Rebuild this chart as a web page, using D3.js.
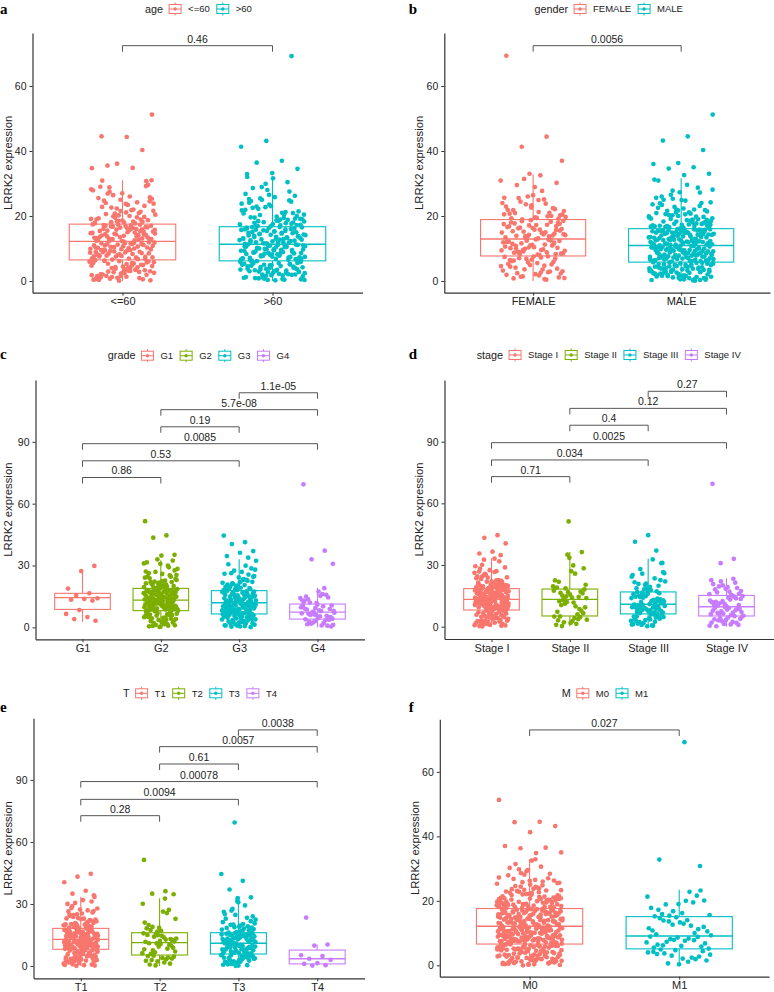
<!DOCTYPE html>
<html><head><meta charset="utf-8">
<script src="https://cdn.jsdelivr.net/npm/d3@7"></script>
<style>body{margin:0;background:#fff}svg{display:block}</style>
</head><body>
<svg id="chart" width="774" height="992"></svg>
<script>
// ---------------- DATA ----------------
const yTicks2 = [0, 20, 40, 60];
const yTicks4 = [0, 30, 60, 90];
const comps2 = [[0, 1]];
const comps4 = [[0, 1], [0, 2], [0, 3], [1, 2], [1, 3], [2, 3]];

// a: age
const ageCats = ["<=60", ">60"];
const ageLe60 = [3.1,9.4,14.2,21.5,0.6,7.2,16.8,25.3,5.2,11.6,13.1,18.4,1.8,8.3,15.5,29.6,4.4,10.2,12.7,19.9,2.5,6.9,17.2,23.1,6.1,11.0,14.9,27.4,0.2,8.8,13.6,18.9,3.8,9.9,16.1,20.6,5.7,7.7,12.4,24.2,1.2,10.8,15.0,30.9,4.9,8.0,17.4,22.0,2.9,11.9,13.9,19.3,0.9,9.1,14.6,26.0,6.3,7.4,16.4,17.9,3.4,10.5,12.9,21.1,2.1,8.6,15.8,28.2,5.5,11.3,13.4,18.6,1.5,6.7,16.7,23.8,4.1,9.6,14.4,20.2,0.4,10.0,12.2,25.7,3.6,7.9,15.3,19.5,5.9,11.5,17.0,30.7,2.3,8.9,13.8,22.6,4.6,9.3,14.0,18.2,1.0,7.0,16.3,26.9,6.0,10.7,12.6,20.9,2.7,11.8,15.6,24.7,3.3,8.2,13.3,17.7,0.7,9.7,16.9,29.0,5.0,7.5,14.7,21.8,1.6,10.3,12.3,19.0,4.2,6.6,15.2,23.4,2.0,11.1,17.3,27.9,5.4,8.4,13.0,18.0,0.3,9.0,14.5,20.4,3.9,10.9,16.6,25.0,6.4,7.1,12.8,31.0,1.3,9.5,15.9,22.3,4.7,11.4,13.7,18.7,2.6,8.1,14.1,26.4,5.8,10.1,16.0,19.7,0.1,7.6,12.5,28.8,3.0,11.7,15.4,21.3,4.3,8.7,17.1,24.0,1.9,9.8,13.2,19.6,4.0,7.3,16.2,22.8,0.5,11.2,14.8,18.3,5.3,8.5,12.1,25.5,2.8,10.4,15.7,20.0,6.2,6.8,13.5,17.8,3.5,9.2,17.0,23.7,1.1,11.4,14.3,19.1,4.8,7.8,16.5,27.0,0.8,10.6,12.9,21.6,3.2,8.9,15.1,18.5,5.6,11.8,13.0,24.5,2.4,7.5,17.3,20.7,6.0,9.5,14.4,29.2,1.5,10.3,16.0,18.1,51.2,44.3,44.5,40.3,36.1,34.7,34.8,35.5];
const ageGt60 = [2.4,8.1,13.5,19.2,4.8,10.6,15.9,25.4,0.5,6.8,12.1,17.6,3.7,9.3,14.8,22.9,5.6,7.5,16.2,18.8,1.1,10.9,11.7,28.6,4.1,8.6,13.0,20.5,2.9,6.4,15.3,24.1,5.1,9.9,12.6,17.1,0.9,11.2,14.2,26.8,3.2,7.9,16.5,19.8,6.0,9.0,11.5,21.7,1.7,10.2,13.8,31.6,4.5,7.2,15.6,18.3,2.2,8.8,12.4,23.5,5.3,10.4,14.5,17.3,0.2,6.6,16.0,29.9,3.5,9.6,11.9,20.0,4.9,8.3,13.2,25.0,1.4,11.0,15.1,18.0,2.7,7.0,12.9,22.2,5.8,9.4,14.0,27.5,0.7,10.7,16.6,19.5,3.9,8.0,11.4,17.8,4.3,6.9,13.6,24.6,1.9,9.8,15.7,21.0,6.1,11.1,12.2,32.0,2.1,7.7,14.3,18.5,5.4,8.5,16.3,20.8,0.4,10.0,13.3,25.8,3.0,7.4,11.6,17.4,4.6,9.1,15.0,23.0,1.2,10.5,12.8,19.0,3.4,6.3,14.7,28.0,5.0,8.9,16.9,21.4,2.6,11.3,11.8,18.1,0.3,7.8,13.9,26.2,4.0,9.2,15.4,20.3,5.9,10.3,12.5,24.4,1.6,6.5,14.6,17.0,3.6,8.2,16.4,30.4,2.0,9.7,12.0,22.5,4.4,10.8,13.1,19.4,0.8,7.3,15.2,25.2,5.2,8.4,14.1,18.9,3.3,6.7,16.8,21.9,2.5,7.6,12.7,18.6,4.7,9.5,15.4,23.8,0.6,10.1,13.7,17.5,3.8,6.5,11.6,20.4,5.5,8.7,16.1,26.5,1.0,11.0,14.4,19.1,3.1,7.1,12.3,22.7,5.9,9.0,15.8,17.2,1.8,10.6,13.4,28.9,4.2,8.2,16.6,20.9,0.3,6.9,11.9,18.4,2.8,9.7,14.8,24.8,5.0,7.4,12.7,17.9,2.0,10.9,15.9,21.2,3.6,8.6,13.0,19.6,69.2,43.1,41.3,37.0,36.4,34.5,33.2,32.9];
// box stats: [lower whisker, Q1, median, Q3, upper whisker]
const ageBox = [[0, 6.5, 12.2, 17.5, 31.0], [0, 6.2, 11.3, 16.7, 32.0]];
const agePvals = ["0.46"];

// b: gender
const genderCats = ["FEMALE", "MALE"];
const genderFemale = [2.7,9.1,14.4,21.2,6.3,11.8,17.1,25.6,0.6,8.2,15.5,19.6,4.4,12.5,13.3,30.9,7.2,10.0,16.9,23.3,1.9,8.8,18.4,20.4,5.5,11.4,14.0,26.0,3.2,9.7,16.2,19.2,7.5,12.1,13.7,31.4,0.9,8.0,17.7,22.1,4.9,10.6,15.0,24.4,2.3,12.8,18.0,20.0,6.8,9.4,14.8,29.5,3.8,11.1,16.6,19.9,1.4,8.5,13.1,21.8,5.9,10.3,17.5,25.1,7.0,12.3,15.8,20.7,2.9,9.9,14.1,32.5,4.1,8.3,18.7,22.9,0.4,11.6,16.0,19.4,6.1,10.9,13.5,24.0,3.5,9.0,17.9,26.4,5.2,12.7,15.2,21.5,1.7,8.7,14.6,33.0,7.4,11.2,16.4,20.2,2.1,10.1,18.2,23.6,4.6,9.5,13.9,30.2,6.6,12.0,17.3,19.0,3.0,8.1,15.3,22.4,5.7,11.9,14.3,25.5,1.1,10.4,16.8,21.0,3.6,9.3,15.8,20.9,6.9,11.0,13.4,23.8,1.3,8.4,17.2,19.3,5.1,12.4,14.9,27.7,2.4,10.2,16.3,21.9,7.6,9.6,18.5,24.9,0.8,11.5,14.2,20.5,4.7,8.9,17.6,28.9,6.4,12.6,13.8,19.7,2.6,10.8,15.7,22.6,69.3,44.4,41.3,37.0];
const genderMale = [2.2,7.9,13.1,18.4,4.5,10.2,15.6,22.0,0.3,6.1,11.4,17.0,3.6,9.0,14.2,25.3,5.3,7.1,12.6,19.7,1.0,10.7,15.9,16.5,2.9,8.4,11.0,27.2,4.8,6.6,13.8,20.6,0.7,9.6,14.9,17.7,3.3,8.0,12.1,23.4,5.6,10.5,15.3,18.9,1.5,6.4,11.7,30.9,4.1,9.3,13.4,21.1,2.6,7.5,14.6,16.8,0.1,10.0,12.3,24.7,3.9,8.7,15.0,19.2,5.0,6.9,11.2,17.3,1.8,9.9,13.6,28.1,4.3,7.7,14.4,20.0,2.4,10.8,12.9,16.3,0.5,8.2,15.8,22.8,3.1,6.2,11.5,18.1,5.4,9.5,13.0,26.5,1.3,7.3,14.0,17.5,4.6,10.3,12.4,21.6,2.0,8.9,15.4,19.0,3.5,6.7,11.9,25.0,0.9,9.7,13.3,16.9,5.7,7.0,14.8,23.9,2.7,10.6,12.0,18.6,4.0,8.5,15.2,20.9,1.2,6.0,11.3,29.6,3.8,9.2,13.9,17.1,0.2,7.6,14.3,22.3,5.2,10.1,12.7,19.5,2.5,8.1,15.7,16.1,4.4,6.5,11.1,24.2,1.6,9.8,13.5,18.3,3.0,7.8,14.7,21.4,0.8,10.4,12.2,27.8,5.5,8.6,15.5,17.8,2.1,6.3,11.8,20.3,3.4,9.4,13.2,23.1,4.9,7.4,14.1,16.6,0.4,10.9,12.5,19.8,2.8,8.3,15.1,26.0,4.2,6.8,11.6,18.0,1.9,9.1,13.7,22.5,3.7,7.2,14.5,17.4,5.1,10.0,12.8,31.2,0.6,8.8,15.9,20.5,2.3,6.1,11.2,16.7,4.7,9.6,13.4,24.9,1.4,7.9,14.9,19.3,3.2,10.5,12.0,21.7,5.8,8.4,15.6,18.2,1.7,7.0,12.2,17.6,3.9,9.5,14.5,21.8,0.5,6.4,11.5,19.1,4.9,8.6,15.3,24.0,2.6,10.3,13.1,16.9,5.3,6.9,12.7,28.7,1.1,9.1,14.8,18.3,3.4,7.8,11.2,22.0,4.5,10.6,15.8,17.0,0.3,8.0,13.5,20.7,2.9,6.2,12.4,25.6,5.6,9.8,14.2,18.7,1.6,7.5,16.0,23.6,3.8,10.0,11.7,16.4,4.2,8.4,13.9,19.9,0.9,6.6,15.2,27.3,2.2,9.3,12.6,17.3,5.0,7.2,14.6,21.1,3.1,10.7,11.4,18.8,1.4,8.7,15.5,20.2,51.2,44.5,43.2,40.3,36.3,36.0,35.0,34.6,33.0,32.6];
const genderBox = [[0, 7.7, 12.9, 18.9, 32.8], [0, 5.8, 10.9, 16.1, 31.6]];
const genderPvals = ["0.0056"];

// c: grade
const gradeCats = ["G1", "G2", "G3", "G4"];
const gradeG1 = [29.8,27.3,18.8,16.5,15.5,14.1,13.8,13.4,13.0,8.4,6.5,5.0,4.0,3.2];
const gradeG2 = [3.0,9.5,14.7,21.3,6.4,12.1,17.0,25.9,0.5,8.6,15.9,19.5,4.7,11.0,13.6,30.8,7.6,10.2,18.2,23.0,1.8,12.8,16.3,20.1,5.5,9.0,14.0,27.6,2.6,11.7,17.8,19.1,7.9,10.6,15.2,32.4,0.2,8.3,13.4,22.2,4.0,12.4,16.9,24.6,6.9,9.8,18.6,20.6,3.3,11.3,14.4,29.1,1.2,8.9,17.3,21.9,5.9,13.0,15.5,19.8,2.1,10.4,13.9,26.3,7.1,9.2,16.6,22.7,4.4,12.6,18.8,31.5,0.8,11.5,14.9,20.4,6.2,8.1,17.5,24.1,3.7,10.8,15.7,19.3,5.2,12.9,13.3,28.4,1.5,9.3,16.1,21.7,7.4,11.9,18.4,23.5,2.9,10.0,14.2,33.0,4.9,8.7,17.2,20.0,0.3,12.2,15.3,26.9,6.6,9.6,13.8,22.0,3.6,11.2,16.7,19.0,1.0,10.5,18.0,25.2,5.7,8.4,14.6,21.1,2.4,12.0,17.7,29.9,7.8,9.9,15.0,23.8,4.2,11.6,13.5,20.8,0.7,8.8,16.4,24.8,6.0,12.7,18.5,19.6,3.1,10.9,14.3,27.1,1.6,9.1,17.6,22.4,5.0,11.4,15.8,31.0,2.2,10.3,13.7,20.3,7.0,12.5,16.0,25.4,4.6,8.5,18.1,21.5,51.5,44.6,43.5,35.2,34.8];
const gradeG3 = [2.5,8.0,13.4,20.2,5.1,10.9,16.1,24.5,0.4,7.1,12.3,18.4,3.8,9.6,14.9,28.6,6.2,11.5,17.5,21.1,1.3,6.8,13.0,19.0,4.3,10.2,15.6,26.3,2.0,8.7,12.6,22.6,5.6,11.1,16.8,18.9,0.1,7.6,14.1,29.9,3.5,9.2,12.1,20.7,6.0,10.6,17.2,23.4,1.7,6.6,13.8,19.6,4.8,11.8,15.3,26.9,2.8,8.4,12.9,18.1,0.6,9.9,16.5,21.8,5.4,7.3,14.4,32.3,3.1,10.4,12.4,20.0,1.0,8.9,17.0,24.9,4.5,11.3,15.0,19.3,6.4,6.9,13.2,22.1,2.3,9.4,16.3,27.5,3.9,10.7,12.0,18.6,0.8,7.8,14.6,21.4,5.8,11.6,17.7,25.6,1.5,8.2,13.6,19.9,4.1,9.0,15.8,23.0,2.6,10.0,12.8,30.6,5.0,7.0,16.9,20.5,0.3,11.0,14.0,18.3,3.3,8.6,13.1,22.9,6.1,9.8,15.5,26.0,1.9,7.4,17.4,19.2,4.6,10.5,12.2,21.6,2.9,8.1,14.7,24.2,0.9,11.4,16.0,28.0,5.3,9.3,13.5,18.0,44.5,41.3,40.4,37.0,36.2,34.6,33.8];
const gradeG4 = [1.2,5.3,8.6,14.5,3.0,6.8,10.2,12.0,0.4,4.5,9.1,15.8,2.3,7.1,7.9,13.6,3.7,5.9,10.9,19.0,1.8,4.2,8.3,14.9,0.8,6.3,9.7,16.1,2.7,5.0,11.0,12.7,3.4,7.3,8.0,15.3,1.5,4.8,9.4,13.1,2.0,6.0,10.6,17.4,3.9,5.6,7.6,14.2,0.9,6.6,8.9,11.8,69.4,37.2,33.0,30.8];
const gradeBox = [[2.7, 8.7, 14.4, 16.5, 27.4], [0, 8.1, 13.2, 18.9, 32.6], [0, 6.5, 11.9, 17.8, 33.0], [0, 4.0, 7.4, 11.3, 19.2]];
const gradePvals = ["0.86", "0.53", "0.0085", "0.19", "5.7e-08", "1.1e-05"];

// d: stage
const stageCats = ["Stage I", "Stage II", "Stage III", "Stage IV"];
const stageI = [3.4,9.7,14.6,20.8,6.7,12.2,17.3,25.1,0.6,8.5,15.8,19.2,4.9,11.4,13.9,30.1,7.8,10.1,18.0,22.7,2.0,12.9,16.2,19.9,5.6,9.2,14.1,27.0,1.1,11.9,17.7,21.4,7.2,10.8,15.1,33.1,3.0,8.2,13.5,23.6,4.3,12.6,16.9,19.0,0.3,9.9,18.3,26.2,6.1,11.1,14.3,20.4,2.7,8.9,17.0,24.0,5.0,13.1,15.4,18.9,1.6,10.4,13.7,28.8,7.5,9.4,16.6,21.9,3.8,12.4,18.4,20.0,0.9,11.7,14.9,25.7,6.4,8.4,17.5,22.3,2.4,10.6,15.6,19.6,4.6,12.0,13.4,31.8,7.9,9.0,16.4,23.2,1.4,11.3,18.2,20.6,5.3,10.0,14.0,26.8,3.2,8.7,17.2,19.4,0.1,12.8,15.2,24.5,6.9,9.6,13.8,21.1,2.2,11.6,16.8,29.4,4.1,10.3,18.1,22.0,7.0,8.8,14.4,19.8,1.9,12.3,17.9,27.5,5.8,9.1,15.0,20.2,3.6,11.0,13.6,23.9,0.7,10.7,16.1,18.7,6.2,12.5,18.5,25.3,2.9,8.6,14.8,21.7,4.4,11.8,15.9,32.6,7.7,9.5,17.4,20.9,1.3,10.2,13.3,24.3,5.1,12.1,16.3,19.3,3.1,8.3,14.2,28.2,0.4,11.5,17.6,22.5,6.6,9.8,15.3,20.5,2.5,12.7,13.9,26.6,4.8,10.9,16.7,19.1,44.5,43.2,40.5,36.5,35.6,34.8];
const stageII = [2.1,9.4,14.2,21.8,4.6,12.0,17.5,25.8,0.3,6.5,15.6,19.0,3.7,11.2,13.9,29.8,5.0,7.8,16.8,22.5,1.4,12.9,18.1,27.0,3.1,8.6,14.8,19.6,4.2,10.5,16.2,33.5,0.9,6.0,13.5,20.4,2.7,12.4,17.0,35.0,4.9,9.9,15.1,28.4,1.8,7.2,14.5,18.6,3.4,11.7,16.4,36.3,51.2];
const stageIII = [2.4,7.9,12.8,19.4,5.0,9.8,15.6,24.3,0.5,6.6,11.3,17.5,3.6,8.8,14.1,26.0,5.9,10.4,16.3,21.0,1.2,7.0,12.0,31.0,4.1,9.2,13.6,18.2,2.8,6.3,15.0,22.6,0.2,10.7,11.6,25.8,4.7,8.1,16.8,19.9,3.2,9.5,13.1,28.0,5.5,7.4,14.6,17.2,1.7,10.1,12.4,20.8,3.9,8.4,15.8,23.5,0.8,6.9,11.0,18.7,5.2,9.0,13.9,32.7,2.2,7.7,16.0,21.6,4.4,10.6,12.2,17.8,1.5,8.6,14.9,25.1,6.0,9.7,11.8,19.1,2.9,6.5,15.3,22.0,0.6,8.2,13.3,18.4,4.9,10.3,16.6,26.5,3.5,7.2,12.6,20.3,1.0,9.4,14.4,30.9,44.5,41.3,37.0];
const stageIV = [2.0,6.8,11.4,17.3,4.4,8.9,13.8,20.1,0.5,5.6,10.2,16.0,3.3,7.7,14.6,22.0,4.9,9.2,12.1,18.8,1.3,6.1,15.0,19.6,3.8,8.3,10.8,21.4,2.6,5.3,13.2,16.7,0.9,9.5,11.9,23.3,4.1,7.1,14.1,18.1,1.8,6.4,12.7,15.5,3.0,8.6,10.0,20.7,5.1,7.4,14.9,17.0,0.2,9.0,11.1,22.6,2.3,5.9,13.5,19.2,3.6,8.0,12.4,15.8,1.1,6.7,10.5,18.4,69.5,33.0,30.9];
const stageBox = [[0, 8.1, 13.3, 18.5, 33.3], [0.2, 5.2, 13.3, 18.3, 36.3], [0, 6.2, 10.9, 16.9, 33.0], [0, 5.2, 9.7, 15.2, 23.5]];
const stagePvals = ["0.71", "0.034", "0.0025", "0.4", "0.12", "0.27"];

// e: T
const tCats = ["T1", "T2", "T3", "T4"];
const tT1 = [4.1,10.5,15.2,22.4,7.3,8.6,17.9,19.5,1.0,12.3,13.6,26.6,5.4,9.3,16.5,20.7,2.8,11.8,14.3,31.2,6.5,10.0,18.1,23.7,0.2,8.2,15.7,19.1,3.9,12.7,13.1,28.0,7.8,9.7,16.9,21.2,2.3,11.2,14.9,24.8,5.0,10.6,17.4,18.5,0.8,8.9,13.9,30.0,6.2,12.1,15.5,22.9,3.5,9.5,16.2,20.1,4.7,11.5,14.0,25.4,1.7,10.2,17.7,19.7,7.6,8.4,13.3,27.3,2.5,12.5,15.9,21.6,5.8,9.9,16.7,23.2,0.5,11.0,14.6,33.4,3.2,10.8,18.0,20.4,6.9,8.7,13.7,25.9,1.4,12.9,15.3,18.8,4.5,9.1,17.1,22.1,7.0,11.6,14.2,29.0,2.0,10.3,16.0,19.3,5.2,8.0,13.0,24.2,0.7,12.2,17.6,21.0,3.7,9.8,15.1,26.4,6.6,11.3,14.7,20.0,1.9,10.7,16.4,23.0,4.9,8.5,13.4,31.9,7.4,12.6,17.2,19.9,2.6,9.2,15.6,22.7,5.6,11.9,14.4,27.8,0.4,10.1,16.8,18.3,3.0,8.8,13.8,21.8,6.1,12.0,17.8,25.0,1.2,9.6,15.0,20.9,4.3,11.4,14.1,30.5,7.9,10.4,16.3,19.0,2.9,8.3,13.2,24.6,5.5,12.8,17.5,22.2,0.1,9.4,15.4,20.3,3.6,11.1,14.5,26.9,6.3,10.9,16.6,18.6,44.6,43.2,40.5,36.4,35.0,34.2];
const tT2 = [2.2,8.1,12.8,18.9,4.5,10.6,15.0,27.1,0.3,6.2,13.9,17.4,3.6,9.4,11.7,25.6,5.0,7.0,14.6,19.8,1.1,10.9,15.8,32.6,2.9,8.8,12.2,18.2,4.1,6.6,13.3,26.3,0.7,9.9,14.9,21.0,3.3,7.6,11.9,17.0,4.8,10.2,15.5,30.1,1.7,5.9,12.5,18.5,2.5,8.4,14.2,22.8,3.9,11.0,13.0,16.6,51.3,36.2,35.0,34.7];
const tT3 = [2.6,7.4,13.0,18.1,5.1,9.8,15.4,22.9,0.4,6.3,11.6,16.9,3.8,8.7,14.2,26.2,5.6,10.5,12.4,19.5,1.3,6.0,15.9,17.6,4.2,9.1,13.5,30.8,2.0,7.9,11.2,20.6,4.9,10.8,14.8,16.4,0.6,6.7,12.7,24.0,3.1,8.3,15.1,18.8,5.3,9.6,11.9,21.7,1.8,7.2,14.0,27.6,3.5,10.2,13.2,17.2,0.1,8.0,15.7,19.9,4.6,6.5,12.1,23.3,2.3,9.4,14.5,16.2,5.8,10.0,11.4,29.3,1.0,7.6,13.7,18.4,3.9,8.9,15.2,20.3,2.8,6.1,12.9,25.1,4.4,10.7,14.3,17.0,0.8,9.3,11.0,21.2,5.0,7.1,15.9,19.0,1.6,8.5,13.4,22.4,3.3,10.4,12.3,31.4,4.0,6.8,14.7,17.9,2.1,9.0,11.8,24.7,5.4,7.8,15.0,18.6,0.2,10.9,13.1,20.0,3.7,8.1,12.6,16.7,1.4,6.4,14.4,26.8,4.7,9.7,15.6,19.2,69.4,44.5,41.2,37.0,33.2,32.8];
const tT4 = [23.4,10.4,9.9,5.2,4.8,3.5,3.0,1.4,1.0,0.4,0.2];
const tBox = [[0, 8.1, 12.9, 18.2, 33.5], [0, 5.3, 11.3, 16.1, 32.8], [0, 5.8, 11.0, 16.1, 31.6], [0.2, 1.0, 3.5, 7.7, 10.4]];
const tPvals = ["0.28", "0.0094", "0.00078", "0.61", "0.0057", "0.0038"];

// f: M
const mCats = ["M0", "M1"];
const mM0 = [3.2,8.4,13.7,20.5,5.9,11.2,16.3,25.0,0.4,7.1,12.5,18.4,4.5,9.8,15.1,29.2,6.3,10.6,17.2,21.7,1.6,6.8,14.0,19.0,2.8,11.9,12.9,26.3,5.1,8.9,16.8,22.8,0.1,10.1,13.3,18.1,3.9,7.5,15.7,31.4,6.0,9.3,14.6,20.0,1.2,11.5,17.4,23.6,4.1,8.0,12.2,19.4,2.4,10.8,16.0,27.9,5.5,7.8,13.1,21.2,0.7,9.1,15.4,18.7,3.5,11.7,14.3,24.3,6.5,6.9,16.6,20.9,1.9,10.3,12.7,32.5,4.8,8.6,17.0,19.7,2.1,9.6,13.9,22.2,5.3,11.0,15.9,25.6,0.3,7.3,12.0,18.9,3.0,10.0,14.8,21.0,6.2,8.2,16.5,28.6,1.4,11.4,13.5,19.3,4.3,9.4,17.5,23.0,2.6,7.7,15.2,20.3,5.7,10.5,12.4,26.8,0.9,8.8,14.2,18.2,3.7,11.8,16.9,22.5,6.1,9.0,13.0,30.6,1.1,7.0,15.6,19.8,4.0,10.9,14.5,24.1,2.2,8.3,17.3,21.4,5.0,9.7,12.8,18.5,0.5,11.1,16.2,27.2,3.4,7.6,13.4,20.7,6.4,10.2,15.0,23.3,1.8,8.5,17.1,19.1,4.6,11.6,14.1,25.5,2.9,9.2,12.3,22.0,5.6,7.2,16.4,18.0,0.2,10.7,13.8,29.8,3.1,8.1,15.3,20.2,6.6,11.3,14.9,24.6,1.3,9.9,17.6,19.5,4.4,7.9,12.6,21.8,2.0,10.4,16.1,26.0,5.2,8.7,13.2,18.6,0.6,11.9,15.8,23.9,3.6,9.5,14.4,20.8,5.8,7.4,16.7,32.9,1.5,10.9,12.1,19.2,4.2,8.0,15.5,22.4,2.7,9.0,17.8,25.3,6.3,11.2,13.6,18.3,0.8,7.8,14.7,21.5,3.3,10.6,16.3,28.1,5.4,8.3,12.9,20.1,1.7,9.6,15.9,24.4,4.7,11.4,14.3,19.6,2.3,7.5,17.0,23.1,6.0,10.1,13.3,27.0,0.0,8.9,15.0,18.8,3.8,11.7,16.5,21.3,5.1,9.3,12.5,30.2,1.0,7.7,14.8,20.6,4.9,10.3,17.4,22.9,2.5,8.6,13.9,19.9,2.0,9.2,14.5,19.2,4.6,7.4,16.1,23.7,0.9,10.8,12.8,18.3,5.9,8.1,15.3,26.2,3.3,11.3,13.7,20.8,1.4,7.0,17.2,22.1,6.3,9.8,14.9,18.9,2.7,10.5,12.2,25.8,4.9,8.4,16.7,21.0,0.3,11.6,13.2,19.7,3.6,7.9,15.6,28.4,5.5,9.5,14.0,18.0,1.8,10.2,16.3,23.2,4.1,6.7,12.6,20.4,6.1,11.0,17.5,24.8,2.4,8.7,13.6,19.0,0.7,9.9,15.1,22.7,5.2,7.2,14.6,17.9,3.0,11.8,16.8,26.5,1.2,8.3,12.4,20.0,4.4,10.6,15.7,21.9,6.5,9.1,13.1,18.6,2.9,7.6,17.0,29.5,0.4,11.2,14.2,20.6,5.7,8.9,16.0,23.4,51.3,44.5,44.4,43.2,41.3,37.0,36.5,36.3,35.0,34.8];
const mM1 = [2.1,6.4,11.2,16.8,4.0,8.3,13.9,20.1,0.3,5.5,10.0,15.4,3.3,7.6,14.6,23.2,4.7,8.9,12.3,18.9,1.5,6.0,9.6,21.6,3.0,7.1,14.0,15.9,4.4,8.6,10.8,19.5,0.6,5.2,12.9,17.2,2.7,7.9,11.5,22.8,3.7,6.8,13.3,15.2,1.9,8.1,9.3,20.0,4.9,5.8,14.9,17.8,2.4,7.3,10.5,16.2,3.5,8.8,12.6,21.3,1.1,6.2,11.9,19.0,4.2,7.8,13.6,15.6,69.2,32.8,30.8];
const mBox = [[0, 6.6, 12.1, 17.6, 33.0], [0.3, 5.1, 9.1, 15.1, 23.4]];
const mPvals = ["0.027"];

const colors2 = ["#F8766D", "#00BFC4"];
const colors4 = ["#F8766D", "#7CAE00", "#00BFC4", "#C77CFF"];

// ---------------- LAYOUT ----------------
const FONT = "'Liberation Sans', Arial, Helvetica, sans-serif";
const panels = [
  {letter: "a", lx: 0, ly: 13.5, title: "age", cats: ageCats, groups: [ageLe60, ageGt60], box: ageBox, colors: colors2,
   comps: comps2, pvals: agePvals, levels: [72.4], ticks: yTicks2, domain: [-3.6, 76.3],
   left: 32.5, right: 362.5, top: 33, bottom: 292.7, legX: 198.5, legY: 9, ytX: 8.5},
  {letter: "b", lx: 408.7, ly: 13.5, title: "gender", cats: genderCats, groups: [genderFemale, genderMale], box: genderBox, colors: colors2,
   comps: comps2, pvals: genderPvals, levels: [72.4], ticks: yTicks2, domain: [-3.6, 76.3],
   left: 444.3, right: 770, top: 33, bottom: 292.7, legX: 608.7, legY: 9, ytX: 418.7},
  {letter: "c", lx: 0, ly: 359.3, title: "grade", cats: gradeCats, groups: [gradeG1, gradeG2, gradeG3, gradeG4], box: gradeBox, colors: colors4,
   comps: comps4, pvals: gradePvals, levels: [72.7, 80.8, 89.1, 97.3, 105.6, 113.8], ticks: yTicks4, domain: [-5.8, 120],
   left: 35.5, right: 364.5, top: 380, bottom: 639.3, legX: 198.5, legY: 355.7, ytX: 8.5},
  {letter: "d", lx: 408.7, ly: 359.3, title: "stage", cats: stageCats, groups: [stageI, stageII, stageIII, stageIV], box: stageBox, colors: colors4,
   comps: comps4, pvals: stagePvals, levels: [73.0, 81.1, 89.5, 98.0, 106.2, 114.5], ticks: yTicks4, domain: [-6.0, 120],
   left: 444.5, right: 773.5, top: 380, bottom: 639, legX: 608.7, legY: 355, ytX: 418.7},
  {letter: "e", lx: 0, ly: 711.7, title: "T", cats: tCats, groups: [tT1, tT2, tT3, tT4], box: tBox, colors: colors4,
   comps: comps4, pvals: tPvals, levels: [72.7, 80.6, 89.2, 97.7, 106.1, 114.2], ticks: yTicks4, domain: [-5.95, 119.8],
   left: 33.5, right: 364.5, top: 718.3, bottom: 978.3, legX: 200, legY: 693.3, ytX: 8.5},
  {letter: "f", lx: 408.7, ly: 711.7, title: "M", cats: mCats, groups: [mM0, mM1], box: mBox, colors: colors2,
   comps: comps2, pvals: mPvals, levels: [73.0], ticks: yTicks2, domain: [-3.53, 76.3],
   left: 439.8, right: 769, top: 719.3, bottom: 976.7, legX: 605, legY: 693.3, ytX: 415.3}
];

const svg = d3.select("#chart");
svg.append("rect").attr("width", 774).attr("height", 992).attr("fill", "#fff");

function drawPanel(p, pi) {
  const g = svg.append("g");
  const x = d3.scalePoint().domain(p.cats).range([p.left, p.right]).padding(0.6);
  const y = d3.scaleLinear().domain(p.domain).range([p.bottom, p.top]);
  const step = x.step();
  const bw = step * 0.71;
  const jw = step * 0.22;

  // boxes
  p.cats.forEach((c, i) => {
    const [lo, q1, med, q3, hi] = p.box[i];
    const cx = x(c);
    const bg = g.append("g").attr("stroke", p.colors[i]).attr("stroke-width", 1.1);
    bg.append("line").attr("x1", cx).attr("x2", cx).attr("y1", y(q3)).attr("y2", y(hi));
    bg.append("line").attr("x1", cx).attr("x2", cx).attr("y1", y(q1)).attr("y2", y(lo));
    bg.append("rect").attr("x", cx - bw / 2).attr("y", y(q3)).attr("width", bw)
      .attr("height", y(q1) - y(q3)).attr("fill", "#fff");
    bg.append("line").attr("x1", cx - bw / 2).attr("x2", cx + bw / 2).attr("y1", y(med)).attr("y2", y(med))
      .attr("stroke-width", 1.4);
  });

  // jittered points
  p.groups.forEach((vals, i) => {
    const cx = x(p.cats[i]);
    g.append("g").selectAll("circle").data(vals).join("circle")
      .attr("cx", (d, j) => cx + ((((j + 1) * 0.6180339887 + i * 0.37 + pi * 0.113) % 1) * 2 - 1) * jw)
      .attr("cy", d => y(d))
      .attr("r", 2.35)
      .attr("fill", p.colors[i]);
  });

  // axes
  const ya = g.append("g").attr("transform", `translate(${p.left},0)`)
    .call(d3.axisLeft(y).tickValues(p.ticks).tickSize(3).tickSizeOuter(0).tickPadding(3));
  const xa = g.append("g").attr("transform", `translate(0,${p.bottom})`)
    .call(d3.axisBottom(x).tickSize(3).tickSizeOuter(0).tickPadding(2));
  [ya, xa].forEach(a => {
    a.attr("font-family", FONT);
    a.select(".domain").attr("stroke", "#333").attr("stroke-width", 1.2);
    a.selectAll(".tick line").attr("stroke", "#333").attr("stroke-width", 1);
    a.selectAll(".tick text").attr("fill", "#222");
  });
  ya.attr("font-size", 10.5);
  xa.attr("font-size", 11);

  // y axis title
  g.append("text").attr("transform", `translate(${p.ytX},${(p.top + p.bottom) / 2}) rotate(-90)`)
    .attr("text-anchor", "middle").attr("dy", "0.35em")
    .attr("font-family", FONT).attr("font-size", 11.3).attr("fill", "#222")
    .text("LRRK2 expression");

  // comparison brackets
  const tip = 6;
  p.comps.forEach((cp, k) => {
    const x1 = x(p.cats[cp[0]]), x2 = x(p.cats[cp[1]]), yy = y(p.levels[k]);
    g.append("path").attr("d", `M${x1},${yy + tip}V${yy}H${x2}V${yy + tip}`)
      .attr("fill", "none").attr("stroke", "#555").attr("stroke-width", 1);
    g.append("text").attr("x", (x1 + x2) / 2).attr("y", yy - 3)
      .attr("text-anchor", "middle").attr("font-family", FONT).attr("font-size", 10.5).attr("fill", "#222")
      .text(p.pvals[k]);
  });

  // legend
  const lg = g.append("g");
  const tt = lg.append("text").attr("font-family", FONT).attr("font-size", 10.8).attr("fill", "#222")
    .attr("dy", "0.35em").attr("y", p.legY).text(p.title);
  let cur = tt.node().getComputedTextLength() + 6;
  const keyW = 12;
  p.cats.forEach((c, i) => {
    const kx = cur + keyW / 2;
    const kg = lg.append("g").attr("stroke", p.colors[i]).attr("stroke-width", 1);
    kg.append("line").attr("x1", kx).attr("x2", kx).attr("y1", p.legY - 6.5).attr("y2", p.legY + 6.5);
    kg.append("rect").attr("x", kx - 6).attr("y", p.legY - 4.5).attr("width", 12).attr("height", 9).attr("fill", "#fff");
    kg.append("line").attr("x1", kx - 6).attr("x2", kx + 6).attr("y1", p.legY).attr("y2", p.legY);
    kg.append("circle").attr("cx", kx).attr("cy", p.legY).attr("r", 1.7).attr("fill", p.colors[i]).attr("stroke", "none");
    cur += keyW + 7;
    const lt = lg.append("text").attr("x", cur).attr("y", p.legY).attr("dy", "0.35em")
      .attr("font-family", FONT).attr("font-size", 9.5).attr("fill", "#222").text(c);
    cur += lt.node().getComputedTextLength() + 7;
  });
  const totalW = cur - 7;
  lg.attr("transform", `translate(${p.legX - totalW / 2},0)`);

  // panel letter
  svg.append("text").attr("x", p.lx).attr("y", p.ly)
    .attr("font-family", "'Liberation Serif', 'Times New Roman', serif").attr("font-weight", "bold")
    .attr("font-size", 15).attr("fill", "#000").text(p.letter);
}

panels.forEach(drawPanel);
</script>
</body></html>
